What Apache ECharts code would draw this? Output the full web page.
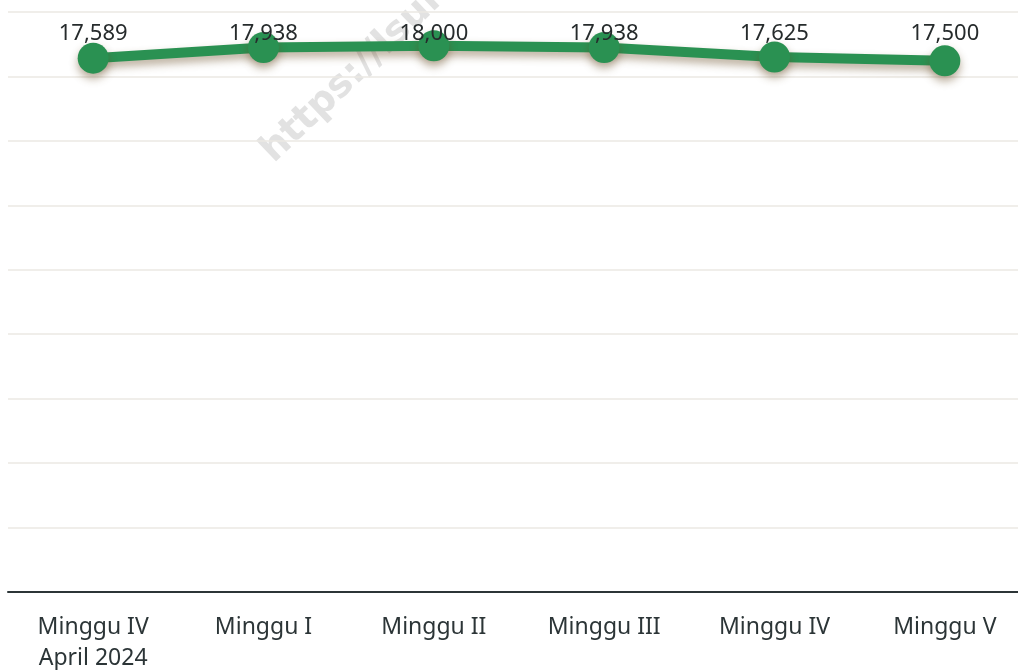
<!DOCTYPE html>
<html>
<head>
<meta charset="utf-8">
<script src="https://cdn.jsdelivr.net/npm/echarts@6/dist/echarts.min.js"></script>
<style>
  html, body { margin: 0; padding: 0; background: #fff; }
  #chart { width: 1018px; height: 670px; }
</style>
</head>
<body>
<div id="chart"></div>
<script>
// data
const weeks = ['Minggu IV\nApril 2024', 'Minggu I', 'Minggu II', 'Minggu III', 'Minggu IV', 'Minggu V'];
const prices = [17589, 17938, 18000, 17938, 17625, 17500];
const axisMax = 19110;
const axisStep = axisMax / 9;

const chart = echarts.init(document.getElementById('chart'));

const option = {
    animation: false,
    backgroundColor: '#fff',
    // plot is cut off on the right, so the grid runs past the window
    grid: { left: 8, right: -12, top: 12, bottom: 78, outerBoundsMode: 'none' },
    graphic: [{
        type: 'text',
        x: 280,
        y: 170,
        rotation: 0.76,
        z: 0,
        style: {
            text: 'https://lsui',
            fill: '#e2e2e2',
            font: 'bold 38px "DejaVu Sans"',
            verticalAlign: 'bottom'
        }
    }],
    xAxis: {
        type: 'category',
        data: weeks,
        boundaryGap: true,
        axisTick: { show: false },
        axisLine: { lineStyle: { color: '#2c3537', width: 2 } },
        axisLabel: {
            color: '#2c3537',
            fontSize: 23,
            fontFamily: 'Noto Sans',
            margin: 20,
            lineHeight: 31,
            interval: 0
        }
    },
    yAxis: {
        type: 'value',
        min: 0,
        max: axisMax,
        interval: axisStep,
        axisLabel: { show: false },
        axisLine: { show: false },
        axisTick: { show: false },
        splitLine: { lineStyle: { color: '#ebe8e3', width: 1.5 } }
    },
    series: [{
        type: 'line',
        data: prices,
        symbol: 'circle',
        symbolSize: 31,
        z: 5,
        lineStyle: {
            color: '#2a9152',
            width: 10,
            shadowColor: 'rgba(100, 70, 30, 0.45)',
            shadowBlur: 8,
            shadowOffsetY: 5
        },
        itemStyle: {
            color: '#2a9152',
            shadowColor: 'rgba(100, 70, 30, 0.45)',
            shadowBlur: 8,
            shadowOffsetY: 5
        },
        label: {
            show: true,
            position: 'top',
            color: '#262b2c',
            fontSize: 22,
            fontFamily: 'Noto Sans',
            formatter: p => p.value.toLocaleString('en-US')
        },
        // labels all sit on one row near the top
        labelLayout: () => ({ y: 34, align: 'center', verticalAlign: 'middle' })
    }]
};

chart.setOption(option);
</script>
</body>
</html>
